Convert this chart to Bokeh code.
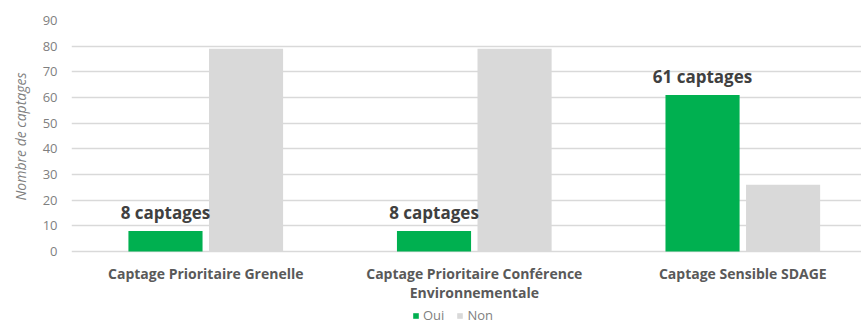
from bokeh.plotting import figure
from bokeh.models import Range1d, FixedTicker, Legend, LegendItem, ColumnDataSource, Title
from bokeh.core.properties import value
from bokeh.embed import file_html
from bokeh.resources import INLINE

categories = ["Captage Prioritaire Grenelle",
              "Captage Prioritaire Conférence\nEnvironnementale",
              "Captage Sensible SDAGE"]
oui = [8, 8, 61]
non = [79, 79, 26]
oui_labels = ["8 captages", "8 captages", "61 captages"]
y_ticks = [0, 10, 20, 30, 40, 50, 60, 70, 80, 90]

FONT = "Open Sans"
GREEN = "#00b050"
GREY = "#d9d9d9"

centers = [i + 0.5 for i in range(len(categories))]
off = 0.15
bw = 0.276
src = ColumnDataSource(dict(
    xc=centers,
    xo=[c - off for c in centers],
    xn=[c + off for c in centers],
    base=[0] * len(centers),
    cat=categories,
    oui=oui, non=non, lab=oui_labels,
))

p = figure(width=861, height=325, x_range=Range1d(0, 2.942), y_range=Range1d(-28.83, 90),
           output_backend="svg", toolbar_location=None,
           min_border_left=71, min_border_right=0, min_border_top=20, min_border_bottom=0)
p.outline_line_color = None
p.xaxis.visible = False

p.xgrid.grid_line_color = None
p.ygrid.grid_line_color = GREY
p.ygrid.grid_line_width = 1.5
p.ygrid.ticker = FixedTicker(ticks=y_ticks)

r_oui = p.vbar(x="xo", top="oui", width=bw, source=src, fill_color=GREEN, line_color=None)
r_non = p.vbar(x="xn", top="non", width=bw, source=src, fill_color=GREY, line_color=None)

# data labels
p.text(x="xo", y="oui", text="lab", source=src, text_align="center", text_baseline="bottom",
       y_offset=-7, text_font=value(FONT), text_font_style="bold", text_font_size="17px",
       text_color="#404040")

# category labels under the baseline
p.text(x="xc", y="base", text="cat", source=src, text_align="center", text_baseline="top",
       y_offset=12, text_font=value(FONT), text_font_style="bold", text_font_size="14px",
       text_color="#595959", text_line_height=1.0)

ya = p.yaxis[0]
ya.ticker = FixedTicker(ticks=y_ticks)
ya.axis_line_color = None
ya.major_tick_line_color = None
ya.minor_tick_line_color = None
ya.major_tick_out = 0
ya.major_label_standoff = 14
ya.major_label_text_font = FONT
ya.major_label_text_font_size = "13px"
ya.major_label_text_color = "#7f7f7f"

ytitle = Title(text="Nombre de captages", align="left", offset=125, vertical_align="top",
               text_font=FONT, text_font_style="italic", text_font_size="14px",
               text_color="#7f7f7f", standoff=16)
p.add_layout(ytitle, "left")

legend = Legend(items=[LegendItem(label="Oui", renderers=[r_oui]),
                       LegendItem(label="Non", renderers=[r_non])],
                orientation="horizontal", location=(340, 0),
                border_line_alpha=0, background_fill_alpha=0,
                label_text_font=FONT, label_text_font_size="13px", label_text_color="#7f7f7f",
                glyph_width=7, glyph_height=7, spacing=12, padding=1, margin=0,
                label_standoff=4, label_height=14)
p.add_layout(legend, "center")

open("out.html", "w").write(file_html(p, INLINE))
